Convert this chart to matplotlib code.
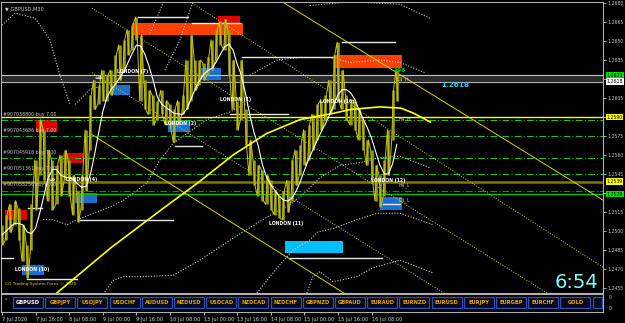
import numpy as np
import pandas as pd
import matplotlib
matplotlib.use("Agg")
import matplotlib.pyplot as plt
from matplotlib.patches import Rectangle

plt.rcParams['font.family'] = ['DejaVu Sans']

highs = [1.2505, 1.2513, 1.2521, 1.2524, 1.2518, 1.2505, 1.2489, 1.2521, 1.2556, 1.2588,
         1.2580, 1.2564, 1.2556, 1.2552, 1.2560, 1.2564, 1.2556, 1.2544, 1.2532, 1.2544,
         1.2580, 1.2607, 1.2619, 1.2615, 1.2627, 1.2623, 1.2627, 1.2639, 1.2647, 1.2651,
         1.2659, 1.2663, 1.2669, 1.2655, 1.2619, 1.2611, 1.2607, 1.2603, 1.2611, 1.2603,
         1.2600, 1.2596, 1.2603, 1.2607, 1.2635, 1.2655, 1.2635, 1.2635, 1.2633, 1.2637,
         1.2651, 1.2659, 1.2665, 1.2667, 1.2659, 1.2635, 1.2603, 1.2635, 1.2596, 1.2572,
         1.2556, 1.2552, 1.2548, 1.2544, 1.2540, 1.2532, 1.2528, 1.2532, 1.2540, 1.2556,
         1.2564, 1.2568, 1.2580, 1.2584, 1.2592, 1.2600, 1.2603, 1.2607, 1.2619, 1.2639,
         1.2649, 1.2627, 1.2607, 1.2603, 1.2603, 1.2596, 1.2588, 1.2572, 1.2564, 1.2552,
         1.2544, 1.2556, 1.2580, 1.2611, 1.2627]
lows = [1.2489, 1.2493, 1.2499, 1.2505, 1.2493, 1.2476, 1.2463, 1.2485, 1.2517, 1.2544,
        1.2540, 1.2524, 1.2517, 1.2521, 1.2528, 1.2540, 1.2528, 1.2513, 1.2507, 1.2517,
        1.2532, 1.2564, 1.2596, 1.2600, 1.2603, 1.2603, 1.2607, 1.2615, 1.2619, 1.2627,
        1.2639, 1.2643, 1.2651, 1.2603, 1.2596, 1.2592, 1.2584, 1.2588, 1.2592, 1.2584,
        1.2581, 1.2570, 1.2584, 1.2592, 1.2596, 1.2603, 1.2611, 1.2615, 1.2619, 1.2623,
        1.2627, 1.2635, 1.2647, 1.2643, 1.2623, 1.2596, 1.2580, 1.2588, 1.2568, 1.2544,
        1.2536, 1.2528, 1.2524, 1.2521, 1.2517, 1.2513, 1.2510, 1.2509, 1.2515, 1.2524,
        1.2536, 1.2544, 1.2552, 1.2556, 1.2564, 1.2572, 1.2580, 1.2588, 1.2592, 1.2596,
        1.2603, 1.2596, 1.2588, 1.2584, 1.2580, 1.2572, 1.2564, 1.2552, 1.2540, 1.2524,
        1.2519, 1.2528, 1.2544, 1.2572, 1.2603]

date_ticks = [0, 8, 16, 24, 32, 40, 48, 56, 64, 72, 80, 88]
date_labels = ["7 Jul 2020", "7 Jul 16:00", "8 Jul 08:00", "9 Jul 00:00", "9 Jul 16:00",
               "10 Jul 08:00", "13 Jul 00:00", "13 Jul 16:00", "14 Jul 08:00",
               "15 Jul 00:00", "15 Jul 16:00", "16 Jul 08:00"]

# slow moving average (yellow)
slow_ma_idx = [11, 13, 26, 38, 47, 55, 63, 71, 79, 83, 90, 95, 98, 102]
slow_ma = [1.2440, 1.2451, 1.2487, 1.2517, 1.2539, 1.2560, 1.2577, 1.2588, 1.2593,
           1.2596, 1.2598, 1.2597, 1.2593, 1.2586]

# envelope bands (grey dotted), pieces visible on the chart
bands = [
    ([-0.5, 3.1, 7.9, 11.4, 13.8, 16.2], [1.2661, 1.2672, 1.2668, 1.2651, 1.2623, 1.2600]),
    ([17.4, 21.0, 23.3], [1.2600, 1.2612, 1.2614]),
    ([35.2, 37.6, 38.6], [1.2656, 1.2674, 1.2682]),
    ([38.8, 42.4, 44.0, 45.5], [1.2627, 1.2651, 1.2667, 1.2681]),
    ([9.8, 12.1, 15.5, 17.9, 21.7, 25.7, 28.8, 34.5, 37.6, 40.7, 44.0, 48.8, 54.3, 57.8],
     [1.2509, 1.2509, 1.2505, 1.2509, 1.2514, 1.2519, 1.2524, 1.2538, 1.2556, 1.2569,
      1.2577, 1.2588, 1.2594, 1.2600]),
    ([59.0, 65.5, 71.0, 78.1, 82.9, 90.0, 94.8, 100.7],
     [1.2623, 1.2635, 1.2637, 1.2637, 1.2633, 1.2635, 1.2633, 1.2625]),
    ([73.3, 82.9, 94.8, 101.9], [1.2678, 1.2681, 1.2679, 1.2668]),
    ([24.5, 26.4, 28.8, 32.9, 40.7, 47.1, 56.7, 63.1, 68.6, 71.0, 75.7, 80.5, 85.2, 90.0,
      94.8, 101.9],
     [1.2452, 1.2461, 1.2464, 1.2464, 1.2465, 1.2477, 1.2498, 1.2511, 1.2521, 1.2527,
      1.2542, 1.2552, 1.2554, 1.2558, 1.2559, 1.2550]),
    ([60.7, 65.5, 69.3, 73.3, 75.0, 78.8, 84.5, 89.3, 94.8, 102.6],
     [1.2451, 1.2471, 1.2485, 1.2493, 1.2499, 1.2502, 1.2509, 1.2514, 1.2514, 1.2505]),
    ([72.6, 74.0, 75.7, 78.8, 84.5, 88.3, 94.8, 102.6],
     [1.2451, 1.2464, 1.2468, 1.2460, 1.2464, 1.2471, 1.2477, 1.2467]),
]

# trend / channel lines: (i0, p0, i1, p1, style)
trend_lines = [
    (66.2, 1.2682, 143.3, 1.2524, '-'),
    (44.3, 1.2682, 143.3, 1.2471, ':'),
    (21.4, 1.2676, 143.3, 1.2423, ':'),
    (21.4, 1.2625, 143.3, 1.2372, ':'),
    (21.0, 1.2577, 143.3, 1.2322, '-'),
]

# zones
red_boxes = [(0.7, 6.0, 1.2509, 1.2517), (8.1, 13.1, 1.2578, 1.2588),
             (14.5, 19.3, 1.2554, 1.2562), (51.4, 56.7, 1.2664, 1.2670)]
orange_boxes = [(31.0, 57.4, 1.2655, 1.2664), (79.3, 95.2, 1.2629, 1.2639)]
blue_boxes = [(4.8, 10.0, 1.2465, 1.2473), (17.4, 22.6, 1.2522, 1.2530),
              (25.7, 30.5, 1.2607, 1.2615), (39.5, 44.8, 1.2578, 1.2588),
              (47.1, 52.1, 1.2619, 1.2629), (90.0, 95.2, 1.2517, 1.2527)]
cyan_boxes = [(67.4, 81.2, 1.2483, 1.2492)]

# session high/low segments (i0, i1, price)
segments = [(32.4, 44.3, 1.2669), (45.2, 56.7, 1.2664), (81.0, 93.6, 1.2649),
            (57.1, 79.3, 1.2637), (-0.5, 2.6, 1.2479), (6.2, 9.5, 1.2518),
            (18.1, 40.7, 1.2509), (6.0, 17.9, 1.2462), (41.2, 47.6, 1.2567),
            (54.3, 68.1, 1.2592), (68.6, 90.5, 1.2479), (90.7, 94.8, 1.2521)]

london = [("LONDON (10)", 7.1, 1.2470), ("LONDON (4)", 19.0, 1.2541),
          ("LONDON (7)", 31.2, 1.2626), ("LONDON (2)", 42.6, 1.2585),
          ("LONDON (1)", 55.5, 1.2604), ("LONDON (16)", 79.8, 1.2602),
          ("LONDON (11)", 67.6, 1.2506), ("LONDON (12)", 91.9, 1.2540)]

order_tickets = ["#907038800", "#907043686", "#907045918", "#907051361", "#907055256"]
order_prices = [1.2588, 1.2575, 1.2558, 1.2545, 1.2532]

ask, bid = 1.2623, 1.2618
h4_high, h4_low = 1.2590, 1.2539
d1_low = 1.2529

symbols = ["GBPUSD", "GBPJPY", "USDJPY", "USDCHF", "AUDUSD", "NZDUSD", "USDCAD", "NZDCAD",
           "NZDCHF", "GBPNZD", "GBPAUD", "EURAUD", "EURNZD", "EURUSD", "EURJPY", "EURGBP",
           "EURCHF", "GOLD", "S"]

W, H = 625, 323
AXW = 602
fig = plt.figure(figsize=(W / 100, H / 100), dpi=100, facecolor='black')
ax = fig.add_axes([1 / W, (H - 293) / H, AXW / W, 291 / H], facecolor='black')
sub = fig.add_axes([1 / W, (H - 312) / H, AXW / W, 18 / H], facecolor='black')

idx = np.arange(len(highs))
hi = np.array(highs)
lo = np.array(lows)
mid = (hi + lo) / 2
fast_ma = pd.Series(mid).rolling(5, min_periods=1).mean()

for boxes, col in [(red_boxes, '#e00000'), (orange_boxes, '#ff4000'),
                   (blue_boxes, '#1a6fd1'), (cyan_boxes, '#00bfff')]:
    for i0, i1, p0, p1 in boxes:
        ax.add_patch(Rectangle((i0, p0), i1 - i0, p1 - p0, color=col, lw=0, zorder=1))

# price levels
ax.axhspan(bid, ask, color='#2a2a2a', zorder=0.5)
ax.axhline(ask, color='#d8b0e8', lw=0.8, zorder=2)
ax.axhline(bid, color='#b0b0b0', lw=0.8, zorder=2)
ax.axhline(h4_high, color='#ffff00', lw=1.0, zorder=2)
ax.axhline(h4_low, color='#807800', lw=1.8, zorder=2)
ax.axhline(d1_low, color='#00c000', lw=1.0, zorder=2)
for k, (t, p) in enumerate(zip(order_tickets, order_prices)):
    c = '#1f8a1f' if k == len(order_prices) - 1 else '#22c022'
    ax.axhline(p, color=c, lw=0.8, ls=(0, (6, 2, 1, 2)), zorder=2)
    ax.text(0.3, p + 0.00024, f"{t} buy 7.00", color='#c8c8c8', fontsize=3.4,
            va='bottom', ha='left', zorder=6)

for i0, p0, i1, p1, st in trend_lines:
    ax.plot([i0, i1], [p0, p1], color='#d8d800', lw=0.7, ls=st, zorder=2)

for bx, by in bands:
    ax.plot(bx, by, color='#d0d0d0', lw=0.8, ls=(0, (1, 1.5)), zorder=2)

ax.plot(slow_ma_idx, slow_ma, color='#ffff00', lw=1.2, zorder=4)

for i0, i1, p in segments:
    ax.plot([i0, i1], [p, p], color='#e8e8e8', lw=1.0, zorder=3)

# price bars: high-low strokes plus the up/down zigzag between them
ax.vlines(idx, lo, hi, color='#98980c', lw=1.9, zorder=3)
zx = np.column_stack([idx - 0.22, idx + 0.22]).ravel()
up = idx % 2 == 0
zy = np.column_stack([np.where(up, hi, lo), np.where(up, lo, hi)]).ravel()
ax.plot(zx, zy, color='#c4c41c', lw=0.7, zorder=3)
ax.plot(idx, fast_ma, color='white', lw=0.8, zorder=4)

for t, i, p in london:
    ax.text(i, p, t, color='white', fontsize=3.3, fontweight='bold', ha='center',
            va='center', zorder=7)

tags = [("D1_H", 94.0, 1.2620), ("H4_H", 94.3, 1.2588), ("H4_L", 94.3, 1.2536),
        ("D1_L", 94.3, 1.2524)]
for t, i, p in tags:
    ax.text(i, p, t, color='#c8c8a0', fontsize=3.4, ha='left', va='center', zorder=7)

ax.text(93.1, 1.2627, "196", color='#00d000', fontsize=4.2, fontweight='bold',
        ha='left', va='center', zorder=7)
ax.text(104.5, 1.2615, "1.2618", color='#33ccff', fontsize=5.2, fontweight='bold',
        ha='left', va='center', zorder=7)
ax.text(22.9, 1.2622, "\u21d2", color='white', fontsize=6, fontweight='bold',
        ha='center', va='center', zorder=7)
ax.text(11.9, 1.2541, "\u21d2", color='white', fontsize=5.5, fontweight='bold',
        ha='center', va='center', zorder=7)

ax.text(0.006, 0.985, "\u25bc GBPUSD,M30", transform=ax.transAxes, color='#d0d0d0',
        fontsize=3.6, ha='left', va='top')
ax.text(0.007, 0.025, "CO Trading System Forex \u00a9 2020", transform=ax.transAxes,
        color='#e8d000', fontsize=3.1, ha='left', va='bottom')

# axes cosmetics
xlim = (-0.24, 143.1)
ax.set_xlim(*xlim)
ax.set_ylim(1.24511, 1.26808)
sub.set_xlim(*xlim)
sub.set_ylim(0, 1)
ax.yaxis.tick_right()
yt = np.arange(1.2455, 1.26801, 0.0015)
tag_prices = [ask, bid, h4_high, h4_low, d1_low]
ax.set_yticks(yt)
ax.set_yticklabels(["" if min(abs(v - q) for q in tag_prices) < 0.00035 else f"{v:.4f}"
                    for v in yt])
ax.tick_params(axis='y', colors='#c8c8c8', labelsize=3.3, length=2, width=0.6, pad=1)
ax.set_xticks([])
for s in ax.spines.values():
    s.set_color('#b0b0b0')
    s.set_linewidth(0.8)

ylab = ax.get_yaxis_transform()
right_tags = [(ask, "1.2623", '#00e000'), (bid, "1.2618", '#ffffff'),
              (h4_high, "1.2590", '#ffff00'), (h4_low, "1.2539", '#ffff00'),
              (d1_low, "1.2529", '#00e000')]
for p, t, c in right_tags:
    ax.text(1.006, p, t, transform=ylab, color='black', fontsize=3.3, ha='left',
            va='center', zorder=8, clip_on=False,
            bbox=dict(boxstyle='square,pad=0.15', fc=c, ec='none'))

sub.set_xticks(date_ticks)
sub.set_xticklabels(date_labels, ha='left')
sub.tick_params(axis='x', colors='#d8d8d8', labelsize=3.6, length=2, width=0.6, pad=1.5)
sub.set_yticks([])
for s in sub.spines.values():
    s.set_color('#b0b0b0')
    s.set_linewidth(0.8)

x0, step, bw = 12 / AXW, 32.2 / AXW, 30 / AXW
for k, s in enumerate(symbols):
    left = x0 + k * step
    w = min(bw, 1 - left - 0.002)
    sub.add_patch(Rectangle((left, 0.2), w, 0.62, transform=sub.transAxes,
                            fc='#0a0a1e', ec='#3050b0', lw=0.9, clip_on=True))
    sub.text(left + bw / 2, 0.51, s, transform=sub.transAxes, fontsize=3.7,
             fontweight='bold', color='white' if k == 0 else '#e8a800',
             ha='center', va='center', clip_on=True)
sub.text(0.006, 0.72, "x", transform=sub.transAxes, color='#c0c0c0', fontsize=3.2,
         ha='left', va='center')
sub.text(1.01, 0.8, "0", transform=sub.transAxes, color='#c0c0c0', fontsize=3.4,
         ha='left', va='center')
sub.text(1.01, 0.22, "0", transform=sub.transAxes, color='#c0c0c0', fontsize=3.4,
         ha='left', va='center')

fig.text(577 / W, 1 - 282 / H, "6:54", color='#7fffff', fontsize=14, ha='center',
         va='center')

fig.savefig("out.png", dpi=100, facecolor='black')
